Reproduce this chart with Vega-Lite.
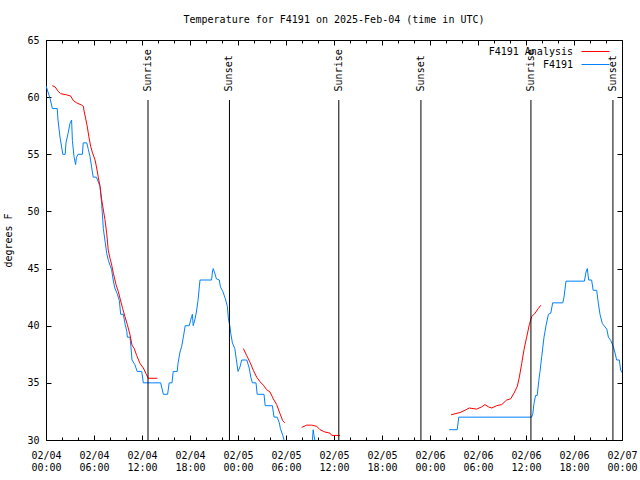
{
  "$schema": "https://vega.github.io/schema/vega-lite/v6.json",
  "width": 576,
  "height": 400,
  "autosize": {"type": "none"},
  "padding": {"left": 46, "top": 40, "right": 18, "bottom": 40},
  "background": "white",
  "title": {"text": "Temperature for F4191 on 2025-Feb-04 (time in UTC)", "font": "DejaVu Sans Mono", "fontSize": 10, "fontWeight": "normal", "color": "black", "anchor": "middle", "frame": "group", "offset": 10},
  "datasets": {
    "obs": [
      {"series": "F4191", "seg": "b1", "time": "2025-02-04T00:00:00Z", "temp": 61.0},
      {"series": "F4191", "seg": "b1", "time": "2025-02-04T00:30:00Z", "temp": 59.9},
      {"series": "F4191", "seg": "b1", "time": "2025-02-04T00:48:00Z", "temp": 59.0},
      {"series": "F4191", "seg": "b1", "time": "2025-02-04T01:24:00Z", "temp": 59.0},
      {"series": "F4191", "seg": "b1", "time": "2025-02-04T01:30:00Z", "temp": 58.0},
      {"series": "F4191", "seg": "b1", "time": "2025-02-04T01:45:00Z", "temp": 56.5},
      {"series": "F4191", "seg": "b1", "time": "2025-02-04T02:06:00Z", "temp": 55.0},
      {"series": "F4191", "seg": "b1", "time": "2025-02-04T02:24:00Z", "temp": 55.0},
      {"series": "F4191", "seg": "b1", "time": "2025-02-04T02:30:00Z", "temp": 56.0},
      {"series": "F4191", "seg": "b1", "time": "2025-02-04T02:45:00Z", "temp": 56.8},
      {"series": "F4191", "seg": "b1", "time": "2025-02-04T03:00:00Z", "temp": 57.7},
      {"series": "F4191", "seg": "b1", "time": "2025-02-04T03:12:00Z", "temp": 58.0},
      {"series": "F4191", "seg": "b1", "time": "2025-02-04T03:18:00Z", "temp": 56.2},
      {"series": "F4191", "seg": "b1", "time": "2025-02-04T03:30:00Z", "temp": 54.8},
      {"series": "F4191", "seg": "b1", "time": "2025-02-04T03:42:00Z", "temp": 54.1},
      {"series": "F4191", "seg": "b1", "time": "2025-02-04T03:48:00Z", "temp": 54.7},
      {"series": "F4191", "seg": "b1", "time": "2025-02-04T04:00:00Z", "temp": 55.0},
      {"series": "F4191", "seg": "b1", "time": "2025-02-04T04:33:00Z", "temp": 55.0},
      {"series": "F4191", "seg": "b1", "time": "2025-02-04T04:39:00Z", "temp": 56.0},
      {"series": "F4191", "seg": "b1", "time": "2025-02-04T05:06:00Z", "temp": 56.0},
      {"series": "F4191", "seg": "b1", "time": "2025-02-04T05:18:00Z", "temp": 55.4},
      {"series": "F4191", "seg": "b1", "time": "2025-02-04T05:30:00Z", "temp": 54.8},
      {"series": "F4191", "seg": "b1", "time": "2025-02-04T05:42:00Z", "temp": 53.9},
      {"series": "F4191", "seg": "b1", "time": "2025-02-04T05:54:00Z", "temp": 53.0},
      {"series": "F4191", "seg": "b1", "time": "2025-02-04T06:18:00Z", "temp": 53.0},
      {"series": "F4191", "seg": "b1", "time": "2025-02-04T06:45:00Z", "temp": 52.2},
      {"series": "F4191", "seg": "b1", "time": "2025-02-04T06:58:00Z", "temp": 50.6},
      {"series": "F4191", "seg": "b1", "time": "2025-02-04T07:10:00Z", "temp": 48.5},
      {"series": "F4191", "seg": "b1", "time": "2025-02-04T07:24:00Z", "temp": 47.3},
      {"series": "F4191", "seg": "b1", "time": "2025-02-04T07:36:00Z", "temp": 46.3},
      {"series": "F4191", "seg": "b1", "time": "2025-02-04T07:48:00Z", "temp": 45.7},
      {"series": "F4191", "seg": "b1", "time": "2025-02-04T08:00:00Z", "temp": 45.3},
      {"series": "F4191", "seg": "b1", "time": "2025-02-04T08:12:00Z", "temp": 44.9},
      {"series": "F4191", "seg": "b1", "time": "2025-02-04T08:24:00Z", "temp": 44.0},
      {"series": "F4191", "seg": "b1", "time": "2025-02-04T08:36:00Z", "temp": 43.3},
      {"series": "F4191", "seg": "b1", "time": "2025-02-04T08:54:00Z", "temp": 42.8},
      {"series": "F4191", "seg": "b1", "time": "2025-02-04T09:10:00Z", "temp": 42.2},
      {"series": "F4191", "seg": "b1", "time": "2025-02-04T09:20:00Z", "temp": 41.0},
      {"series": "F4191", "seg": "b1", "time": "2025-02-04T09:40:00Z", "temp": 41.0},
      {"series": "F4191", "seg": "b1", "time": "2025-02-04T09:54:00Z", "temp": 40.1},
      {"series": "F4191", "seg": "b1", "time": "2025-02-04T10:06:00Z", "temp": 39.5},
      {"series": "F4191", "seg": "b1", "time": "2025-02-04T10:10:00Z", "temp": 39.0},
      {"series": "F4191", "seg": "b1", "time": "2025-02-04T10:30:00Z", "temp": 39.0},
      {"series": "F4191", "seg": "b1", "time": "2025-02-04T10:36:00Z", "temp": 38.3},
      {"series": "F4191", "seg": "b1", "time": "2025-02-04T10:45:00Z", "temp": 37.0},
      {"series": "F4191", "seg": "b1", "time": "2025-02-04T11:06:00Z", "temp": 36.6},
      {"series": "F4191", "seg": "b1", "time": "2025-02-04T11:24:00Z", "temp": 36.0},
      {"series": "F4191", "seg": "b1", "time": "2025-02-04T11:58:00Z", "temp": 36.0},
      {"series": "F4191", "seg": "b1", "time": "2025-02-04T12:10:00Z", "temp": 35.0},
      {"series": "F4191", "seg": "b1", "time": "2025-02-04T14:20:00Z", "temp": 35.0},
      {"series": "F4191", "seg": "b1", "time": "2025-02-04T14:40:00Z", "temp": 34.0},
      {"series": "F4191", "seg": "b1", "time": "2025-02-04T15:12:00Z", "temp": 34.0},
      {"series": "F4191", "seg": "b1", "time": "2025-02-04T15:24:00Z", "temp": 35.0},
      {"series": "F4191", "seg": "b1", "time": "2025-02-04T15:45:00Z", "temp": 35.0},
      {"series": "F4191", "seg": "b1", "time": "2025-02-04T15:54:00Z", "temp": 36.0},
      {"series": "F4191", "seg": "b1", "time": "2025-02-04T16:24:00Z", "temp": 36.0},
      {"series": "F4191", "seg": "b1", "time": "2025-02-04T16:30:00Z", "temp": 36.7},
      {"series": "F4191", "seg": "b1", "time": "2025-02-04T16:45:00Z", "temp": 37.7},
      {"series": "F4191", "seg": "b1", "time": "2025-02-04T16:58:00Z", "temp": 38.2},
      {"series": "F4191", "seg": "b1", "time": "2025-02-04T17:10:00Z", "temp": 39.0},
      {"series": "F4191", "seg": "b1", "time": "2025-02-04T17:24:00Z", "temp": 40.0},
      {"series": "F4191", "seg": "b1", "time": "2025-02-04T17:54:00Z", "temp": 40.0},
      {"series": "F4191", "seg": "b1", "time": "2025-02-04T18:12:00Z", "temp": 40.8},
      {"series": "F4191", "seg": "b1", "time": "2025-02-04T18:18:00Z", "temp": 41.0},
      {"series": "F4191", "seg": "b1", "time": "2025-02-04T18:24:00Z", "temp": 40.0},
      {"series": "F4191", "seg": "b1", "time": "2025-02-04T18:36:00Z", "temp": 40.5},
      {"series": "F4191", "seg": "b1", "time": "2025-02-04T18:48:00Z", "temp": 41.2},
      {"series": "F4191", "seg": "b1", "time": "2025-02-04T19:00:00Z", "temp": 42.2},
      {"series": "F4191", "seg": "b1", "time": "2025-02-04T19:15:00Z", "temp": 44.0},
      {"series": "F4191", "seg": "b1", "time": "2025-02-04T20:42:00Z", "temp": 44.0},
      {"series": "F4191", "seg": "b1", "time": "2025-02-04T20:48:00Z", "temp": 44.7},
      {"series": "F4191", "seg": "b1", "time": "2025-02-04T20:54:00Z", "temp": 45.0},
      {"series": "F4191", "seg": "b1", "time": "2025-02-04T21:06:00Z", "temp": 44.6},
      {"series": "F4191", "seg": "b1", "time": "2025-02-04T21:18:00Z", "temp": 44.1},
      {"series": "F4191", "seg": "b1", "time": "2025-02-04T21:40:00Z", "temp": 44.0},
      {"series": "F4191", "seg": "b1", "time": "2025-02-04T21:48:00Z", "temp": 43.4},
      {"series": "F4191", "seg": "b1", "time": "2025-02-04T22:06:00Z", "temp": 43.0},
      {"series": "F4191", "seg": "b1", "time": "2025-02-04T22:24:00Z", "temp": 42.4},
      {"series": "F4191", "seg": "b1", "time": "2025-02-04T22:40:00Z", "temp": 41.7},
      {"series": "F4191", "seg": "b1", "time": "2025-02-04T22:48:00Z", "temp": 40.6},
      {"series": "F4191", "seg": "b1", "time": "2025-02-04T23:00:00Z", "temp": 39.9},
      {"series": "F4191", "seg": "b1", "time": "2025-02-04T23:06:00Z", "temp": 39.3},
      {"series": "F4191", "seg": "b1", "time": "2025-02-04T23:18:00Z", "temp": 38.5},
      {"series": "F4191", "seg": "b1", "time": "2025-02-04T23:36:00Z", "temp": 38.0},
      {"series": "F4191", "seg": "b1", "time": "2025-02-04T23:48:00Z", "temp": 37.0},
      {"series": "F4191", "seg": "b1", "time": "2025-02-05T00:00:00Z", "temp": 36.0},
      {"series": "F4191", "seg": "b1", "time": "2025-02-05T00:15:00Z", "temp": 36.4},
      {"series": "F4191", "seg": "b1", "time": "2025-02-05T00:28:00Z", "temp": 37.0},
      {"series": "F4191", "seg": "b1", "time": "2025-02-05T01:06:00Z", "temp": 37.0},
      {"series": "F4191", "seg": "b1", "time": "2025-02-05T01:24:00Z", "temp": 36.3},
      {"series": "F4191", "seg": "b1", "time": "2025-02-05T01:36:00Z", "temp": 35.5},
      {"series": "F4191", "seg": "b1", "time": "2025-02-05T01:48:00Z", "temp": 35.0},
      {"series": "F4191", "seg": "b1", "time": "2025-02-05T02:15:00Z", "temp": 35.0},
      {"series": "F4191", "seg": "b1", "time": "2025-02-05T02:24:00Z", "temp": 34.0},
      {"series": "F4191", "seg": "b1", "time": "2025-02-05T03:15:00Z", "temp": 34.0},
      {"series": "F4191", "seg": "b1", "time": "2025-02-05T03:24:00Z", "temp": 33.0},
      {"series": "F4191", "seg": "b1", "time": "2025-02-05T04:18:00Z", "temp": 33.0},
      {"series": "F4191", "seg": "b1", "time": "2025-02-05T04:30:00Z", "temp": 32.0},
      {"series": "F4191", "seg": "b1", "time": "2025-02-05T04:54:00Z", "temp": 32.0},
      {"series": "F4191", "seg": "b1", "time": "2025-02-05T05:10:00Z", "temp": 31.5},
      {"series": "F4191", "seg": "b1", "time": "2025-02-05T05:18:00Z", "temp": 31.0},
      {"series": "F4191", "seg": "b1", "time": "2025-02-05T05:36:00Z", "temp": 30.4},
      {"series": "F4191", "seg": "b1", "time": "2025-02-05T05:45:00Z", "temp": 30.0},
      {"series": "F4191", "seg": "b1", "time": "2025-02-05T06:12:00Z", "temp": 29.3},
      {"series": "F4191", "seg": "b1", "time": "2025-02-05T07:30:00Z", "temp": 29.0},
      {"series": "F4191", "seg": "b1", "time": "2025-02-05T09:00:00Z", "temp": 29.2},
      {"series": "F4191", "seg": "b1", "time": "2025-02-05T09:18:00Z", "temp": 30.0},
      {"series": "F4191", "seg": "b1", "time": "2025-02-05T09:24:00Z", "temp": 30.9},
      {"series": "F4191", "seg": "b1", "time": "2025-02-05T09:30:00Z", "temp": 30.4},
      {"series": "F4191", "seg": "b1", "time": "2025-02-05T09:36:00Z", "temp": 30.0},
      {"series": "F4191", "seg": "b1", "time": "2025-02-05T10:00:00Z", "temp": 29.4},
      {"series": "F4191", "seg": "b2", "time": "2025-02-06T02:24:00Z", "temp": 30.9},
      {"series": "F4191", "seg": "b2", "time": "2025-02-06T03:24:00Z", "temp": 30.9},
      {"series": "F4191", "seg": "b2", "time": "2025-02-06T03:36:00Z", "temp": 32.0},
      {"series": "F4191", "seg": "b2", "time": "2025-02-06T12:42:00Z", "temp": 32.0},
      {"series": "F4191", "seg": "b2", "time": "2025-02-06T12:51:00Z", "temp": 32.3},
      {"series": "F4191", "seg": "b2", "time": "2025-02-06T13:00:00Z", "temp": 33.2},
      {"series": "F4191", "seg": "b2", "time": "2025-02-06T13:12:00Z", "temp": 33.9},
      {"series": "F4191", "seg": "b2", "time": "2025-02-06T13:24:00Z", "temp": 33.9},
      {"series": "F4191", "seg": "b2", "time": "2025-02-06T13:36:00Z", "temp": 35.2},
      {"series": "F4191", "seg": "b2", "time": "2025-02-06T13:45:00Z", "temp": 36.0},
      {"series": "F4191", "seg": "b2", "time": "2025-02-06T13:58:00Z", "temp": 37.3},
      {"series": "F4191", "seg": "b2", "time": "2025-02-06T14:15:00Z", "temp": 39.0},
      {"series": "F4191", "seg": "b2", "time": "2025-02-06T14:30:00Z", "temp": 40.0},
      {"series": "F4191", "seg": "b2", "time": "2025-02-06T14:48:00Z", "temp": 41.0},
      {"series": "F4191", "seg": "b2", "time": "2025-02-06T15:06:00Z", "temp": 41.1},
      {"series": "F4191", "seg": "b2", "time": "2025-02-06T15:20:00Z", "temp": 42.0},
      {"series": "F4191", "seg": "b2", "time": "2025-02-06T16:36:00Z", "temp": 42.0},
      {"series": "F4191", "seg": "b2", "time": "2025-02-06T16:45:00Z", "temp": 42.5},
      {"series": "F4191", "seg": "b2", "time": "2025-02-06T17:00:00Z", "temp": 43.9},
      {"series": "F4191", "seg": "b2", "time": "2025-02-06T19:18:00Z", "temp": 43.9},
      {"series": "F4191", "seg": "b2", "time": "2025-02-06T19:30:00Z", "temp": 44.7},
      {"series": "F4191", "seg": "b2", "time": "2025-02-06T19:40:00Z", "temp": 45.0},
      {"series": "F4191", "seg": "b2", "time": "2025-02-06T19:50:00Z", "temp": 44.0},
      {"series": "F4191", "seg": "b2", "time": "2025-02-06T20:12:00Z", "temp": 44.0},
      {"series": "F4191", "seg": "b2", "time": "2025-02-06T20:24:00Z", "temp": 43.1},
      {"series": "F4191", "seg": "b2", "time": "2025-02-06T20:50:00Z", "temp": 43.1},
      {"series": "F4191", "seg": "b2", "time": "2025-02-06T21:02:00Z", "temp": 42.0},
      {"series": "F4191", "seg": "b2", "time": "2025-02-06T21:15:00Z", "temp": 41.0},
      {"series": "F4191", "seg": "b2", "time": "2025-02-06T21:32:00Z", "temp": 40.2},
      {"series": "F4191", "seg": "b2", "time": "2025-02-06T21:45:00Z", "temp": 40.0},
      {"series": "F4191", "seg": "b2", "time": "2025-02-06T22:06:00Z", "temp": 39.7},
      {"series": "F4191", "seg": "b2", "time": "2025-02-06T22:18:00Z", "temp": 39.0},
      {"series": "F4191", "seg": "b2", "time": "2025-02-06T22:36:00Z", "temp": 38.7},
      {"series": "F4191", "seg": "b2", "time": "2025-02-06T22:54:00Z", "temp": 38.2},
      {"series": "F4191", "seg": "b2", "time": "2025-02-06T23:06:00Z", "temp": 37.7},
      {"series": "F4191", "seg": "b2", "time": "2025-02-06T23:20:00Z", "temp": 37.0},
      {"series": "F4191", "seg": "b2", "time": "2025-02-06T23:40:00Z", "temp": 37.0},
      {"series": "F4191", "seg": "b2", "time": "2025-02-06T23:50:00Z", "temp": 36.1},
      {"series": "F4191", "seg": "b2", "time": "2025-02-07T00:00:00Z", "temp": 35.9},
      {"series": "F4191 Analysis", "seg": "r1", "time": "2025-02-04T00:47:00Z", "temp": 61.0},
      {"series": "F4191 Analysis", "seg": "r1", "time": "2025-02-04T01:08:00Z", "temp": 60.9},
      {"series": "F4191 Analysis", "seg": "r1", "time": "2025-02-04T01:32:00Z", "temp": 60.5},
      {"series": "F4191 Analysis", "seg": "r1", "time": "2025-02-04T01:50:00Z", "temp": 60.3},
      {"series": "F4191 Analysis", "seg": "r1", "time": "2025-02-04T02:35:00Z", "temp": 60.2},
      {"series": "F4191 Analysis", "seg": "r1", "time": "2025-02-04T03:05:00Z", "temp": 60.1},
      {"series": "F4191 Analysis", "seg": "r1", "time": "2025-02-04T03:25:00Z", "temp": 59.7},
      {"series": "F4191 Analysis", "seg": "r1", "time": "2025-02-04T03:50:00Z", "temp": 59.5},
      {"series": "F4191 Analysis", "seg": "r1", "time": "2025-02-04T04:28:00Z", "temp": 59.3},
      {"series": "F4191 Analysis", "seg": "r1", "time": "2025-02-04T04:40:00Z", "temp": 59.2},
      {"series": "F4191 Analysis", "seg": "r1", "time": "2025-02-04T04:47:00Z", "temp": 58.7},
      {"series": "F4191 Analysis", "seg": "r1", "time": "2025-02-04T04:58:00Z", "temp": 58.1},
      {"series": "F4191 Analysis", "seg": "r1", "time": "2025-02-04T05:10:00Z", "temp": 57.4},
      {"series": "F4191 Analysis", "seg": "r1", "time": "2025-02-04T05:22:00Z", "temp": 56.5},
      {"series": "F4191 Analysis", "seg": "r1", "time": "2025-02-04T05:35:00Z", "temp": 55.7},
      {"series": "F4191 Analysis", "seg": "r1", "time": "2025-02-04T05:47:00Z", "temp": 55.2},
      {"series": "F4191 Analysis", "seg": "r1", "time": "2025-02-04T06:08:00Z", "temp": 54.5},
      {"series": "F4191 Analysis", "seg": "r1", "time": "2025-02-04T06:20:00Z", "temp": 53.8},
      {"series": "F4191 Analysis", "seg": "r1", "time": "2025-02-04T06:32:00Z", "temp": 53.0},
      {"series": "F4191 Analysis", "seg": "r1", "time": "2025-02-04T06:45:00Z", "temp": 52.2},
      {"series": "F4191 Analysis", "seg": "r1", "time": "2025-02-04T06:58:00Z", "temp": 51.0},
      {"series": "F4191 Analysis", "seg": "r1", "time": "2025-02-04T07:22:00Z", "temp": 49.3},
      {"series": "F4191 Analysis", "seg": "r1", "time": "2025-02-04T07:35:00Z", "temp": 48.1},
      {"series": "F4191 Analysis", "seg": "r1", "time": "2025-02-04T07:47:00Z", "temp": 46.6},
      {"series": "F4191 Analysis", "seg": "r1", "time": "2025-02-04T08:00:00Z", "temp": 45.9},
      {"series": "F4191 Analysis", "seg": "r1", "time": "2025-02-04T08:13:00Z", "temp": 45.3},
      {"series": "F4191 Analysis", "seg": "r1", "time": "2025-02-04T08:25:00Z", "temp": 44.6},
      {"series": "F4191 Analysis", "seg": "r1", "time": "2025-02-04T08:45:00Z", "temp": 43.6},
      {"series": "F4191 Analysis", "seg": "r1", "time": "2025-02-04T09:02:00Z", "temp": 43.0},
      {"series": "F4191 Analysis", "seg": "r1", "time": "2025-02-04T09:15:00Z", "temp": 42.4},
      {"series": "F4191 Analysis", "seg": "r1", "time": "2025-02-04T09:35:00Z", "temp": 41.5},
      {"series": "F4191 Analysis", "seg": "r1", "time": "2025-02-04T09:52:00Z", "temp": 40.8},
      {"series": "F4191 Analysis", "seg": "r1", "time": "2025-02-04T10:10:00Z", "temp": 40.1},
      {"series": "F4191 Analysis", "seg": "r1", "time": "2025-02-04T10:30:00Z", "temp": 39.2},
      {"series": "F4191 Analysis", "seg": "r1", "time": "2025-02-04T10:45:00Z", "temp": 38.3},
      {"series": "F4191 Analysis", "seg": "r1", "time": "2025-02-04T11:02:00Z", "temp": 38.0},
      {"series": "F4191 Analysis", "seg": "r1", "time": "2025-02-04T11:20:00Z", "temp": 37.4},
      {"series": "F4191 Analysis", "seg": "r1", "time": "2025-02-04T11:45:00Z", "temp": 36.7},
      {"series": "F4191 Analysis", "seg": "r1", "time": "2025-02-04T12:10:00Z", "temp": 36.3},
      {"series": "F4191 Analysis", "seg": "r1", "time": "2025-02-04T12:30:00Z", "temp": 35.8},
      {"series": "F4191 Analysis", "seg": "r1", "time": "2025-02-04T12:47:00Z", "temp": 35.4},
      {"series": "F4191 Analysis", "seg": "r1", "time": "2025-02-04T13:55:00Z", "temp": 35.4},
      {"series": "F4191 Analysis", "seg": "r2", "time": "2025-02-05T00:40:00Z", "temp": 38.0},
      {"series": "F4191 Analysis", "seg": "r2", "time": "2025-02-05T01:05:00Z", "temp": 37.4},
      {"series": "F4191 Analysis", "seg": "r2", "time": "2025-02-05T01:30:00Z", "temp": 36.8},
      {"series": "F4191 Analysis", "seg": "r2", "time": "2025-02-05T01:55:00Z", "temp": 36.1},
      {"series": "F4191 Analysis", "seg": "r2", "time": "2025-02-05T02:20:00Z", "temp": 35.5},
      {"series": "F4191 Analysis", "seg": "r2", "time": "2025-02-05T02:45:00Z", "temp": 35.1},
      {"series": "F4191 Analysis", "seg": "r2", "time": "2025-02-05T03:10:00Z", "temp": 34.8},
      {"series": "F4191 Analysis", "seg": "r2", "time": "2025-02-05T03:35:00Z", "temp": 34.4},
      {"series": "F4191 Analysis", "seg": "r2", "time": "2025-02-05T04:00:00Z", "temp": 34.2},
      {"series": "F4191 Analysis", "seg": "r2", "time": "2025-02-05T04:25:00Z", "temp": 33.6},
      {"series": "F4191 Analysis", "seg": "r2", "time": "2025-02-05T04:50:00Z", "temp": 33.1},
      {"series": "F4191 Analysis", "seg": "r2", "time": "2025-02-05T05:15:00Z", "temp": 32.3},
      {"series": "F4191 Analysis", "seg": "r2", "time": "2025-02-05T05:35:00Z", "temp": 31.7},
      {"series": "F4191 Analysis", "seg": "r2", "time": "2025-02-05T05:52:00Z", "temp": 31.5},
      {"series": "F4191 Analysis", "seg": "r3", "time": "2025-02-05T07:58:00Z", "temp": 31.1},
      {"series": "F4191 Analysis", "seg": "r3", "time": "2025-02-05T08:35:00Z", "temp": 31.3},
      {"series": "F4191 Analysis", "seg": "r3", "time": "2025-02-05T09:12:00Z", "temp": 31.3},
      {"series": "F4191 Analysis", "seg": "r3", "time": "2025-02-05T09:50:00Z", "temp": 31.2},
      {"series": "F4191 Analysis", "seg": "r3", "time": "2025-02-05T10:15:00Z", "temp": 30.9},
      {"series": "F4191 Analysis", "seg": "r3", "time": "2025-02-05T10:52:00Z", "temp": 30.7},
      {"series": "F4191 Analysis", "seg": "r3", "time": "2025-02-05T11:30:00Z", "temp": 30.6},
      {"series": "F4191 Analysis", "seg": "r3", "time": "2025-02-05T11:43:00Z", "temp": 30.4},
      {"series": "F4191 Analysis", "seg": "r3", "time": "2025-02-05T12:45:00Z", "temp": 30.4},
      {"series": "F4191 Analysis", "seg": "r4", "time": "2025-02-06T02:38:00Z", "temp": 32.2},
      {"series": "F4191 Analysis", "seg": "r4", "time": "2025-02-06T03:08:00Z", "temp": 32.3},
      {"series": "F4191 Analysis", "seg": "r4", "time": "2025-02-06T03:45:00Z", "temp": 32.4},
      {"series": "F4191 Analysis", "seg": "r4", "time": "2025-02-06T04:22:00Z", "temp": 32.6},
      {"series": "F4191 Analysis", "seg": "r4", "time": "2025-02-06T04:55:00Z", "temp": 32.8},
      {"series": "F4191 Analysis", "seg": "r4", "time": "2025-02-06T05:50:00Z", "temp": 32.7},
      {"series": "F4191 Analysis", "seg": "r4", "time": "2025-02-06T06:28:00Z", "temp": 32.9},
      {"series": "F4191 Analysis", "seg": "r4", "time": "2025-02-06T06:52:00Z", "temp": 33.1},
      {"series": "F4191 Analysis", "seg": "r4", "time": "2025-02-06T07:18:00Z", "temp": 32.9},
      {"series": "F4191 Analysis", "seg": "r4", "time": "2025-02-06T07:43:00Z", "temp": 32.8},
      {"series": "F4191 Analysis", "seg": "r4", "time": "2025-02-06T08:20:00Z", "temp": 33.0},
      {"series": "F4191 Analysis", "seg": "r4", "time": "2025-02-06T08:58:00Z", "temp": 33.1},
      {"series": "F4191 Analysis", "seg": "r4", "time": "2025-02-06T09:35:00Z", "temp": 33.5},
      {"series": "F4191 Analysis", "seg": "r4", "time": "2025-02-06T10:05:00Z", "temp": 33.6},
      {"series": "F4191 Analysis", "seg": "r4", "time": "2025-02-06T10:30:00Z", "temp": 34.1},
      {"series": "F4191 Analysis", "seg": "r4", "time": "2025-02-06T10:55:00Z", "temp": 34.7},
      {"series": "F4191 Analysis", "seg": "r4", "time": "2025-02-06T11:10:00Z", "temp": 35.5},
      {"series": "F4191 Analysis", "seg": "r4", "time": "2025-02-06T11:28:00Z", "temp": 36.7},
      {"series": "F4191 Analysis", "seg": "r4", "time": "2025-02-06T11:45:00Z", "temp": 37.9},
      {"series": "F4191 Analysis", "seg": "r4", "time": "2025-02-06T12:05:00Z", "temp": 39.0},
      {"series": "F4191 Analysis", "seg": "r4", "time": "2025-02-06T12:25:00Z", "temp": 40.1},
      {"series": "F4191 Analysis", "seg": "r4", "time": "2025-02-06T12:43:00Z", "temp": 40.8},
      {"series": "F4191 Analysis", "seg": "r4", "time": "2025-02-06T13:08:00Z", "temp": 41.1},
      {"series": "F4191 Analysis", "seg": "r4", "time": "2025-02-06T13:32:00Z", "temp": 41.5},
      {"series": "F4191 Analysis", "seg": "r4", "time": "2025-02-06T13:52:00Z", "temp": 41.8}
    ],
    "events": [
      {"event": "Sunrise", "time": "2025-02-04T12:45:00Z"},
      {"event": "Sunset", "time": "2025-02-04T22:56:00Z"},
      {"event": "Sunrise", "time": "2025-02-05T12:36:00Z"},
      {"event": "Sunset", "time": "2025-02-05T22:52:00Z"},
      {"event": "Sunrise", "time": "2025-02-06T12:37:00Z"},
      {"event": "Sunset", "time": "2025-02-06T22:52:00Z"}
    ]
  },
  "layer": [
    {
      "data": {"name": "obs"},
      "mark": {"type": "line", "strokeWidth": 1, "clip": true},
      "encoding": {
        "x": {
          "field": "time", "type": "temporal",
          "scale": {"type": "utc", "domain": [1738627200000, 1738886400000], "nice": false},
          "axis": {
            "orient": "bottom", "title": null,
            "values": [1738627200000, 1738648800000, 1738670400000, 1738692000000, 1738713600000, 1738735200000, 1738756800000, 1738778400000, 1738800000000, 1738821600000, 1738843200000, 1738864800000, 1738886400000],
            "format": "%m/%d", "tickSize": -5,
            "labelOverlap": false, "labelFlush": false, "labelPadding": 15, "labelBaseline": "top"
          }
        },
        "y": {
          "field": "temp", "type": "quantitative",
          "scale": {"domain": [30, 65], "nice": false, "zero": false},
          "axis": {
            "orient": "left", "values": [30, 35, 40, 45, 50, 55, 60, 65],
            "tickSize": -5, "labelPadding": 12,
            "title": "degrees F", "titleX": -38, "titleY": 200, "titleAngle": 270, "titleAlign": "center", "titleBaseline": "middle"
          }
        },
        "color": {
          "field": "series", "type": "nominal",
          "scale": {"domain": ["F4191 Analysis", "F4191"], "range": ["#ff0000", "#0080ff"]},
          "legend": {
            "title": null, "orient": "none", "legendX": 542, "legendY": 4,
            "symbolType": "M-2,0H2", "symbolSize": 196, "symbolStrokeWidth": 1, "symbolOpacity": 1,
            "labelAlign": "right", "labelOffset": -30, "labelFont": "DejaVu Sans Mono", "labelFontSize": 10, "labelColor": "black",
            "padding": 0, "rowPadding": -2
          }
        },
        "detail": {"field": "seg", "type": "nominal"}
      }
    },
    {
      "data": {"name": "events"},
      "mark": {"type": "rule", "color": "black", "strokeWidth": 1},
      "encoding": {
        "x": {"field": "time", "type": "temporal", "scale": {"type": "utc", "domain": [1738627200000, 1738886400000], "nice": false},
          "axis": {"orient": "top", "title": null, "labels": false, "tickSize": -5,
            "values": [1738627200000, 1738648800000, 1738670400000, 1738692000000, 1738713600000, 1738735200000, 1738756800000, 1738778400000, 1738800000000, 1738821600000, 1738843200000, 1738864800000, 1738886400000]}},
        "y": {"datum": 30, "type": "quantitative", "scale": {"domain": [30, 65], "nice": false, "zero": false},
          "axis": {"orient": "right", "values": [30, 35, 40, 45, 50, 55, 60, 65], "tickSize": -5, "labels": false, "title": null}},
        "y2": {"datum": 59.75}
      }
    },
    {
      "data": {"name": "events"},
      "mark": {"type": "text", "angle": 270, "align": "left", "baseline": "middle", "font": "DejaVu Sans Mono", "fontSize": 10, "color": "black"},
      "encoding": {
        "x": {"field": "time", "type": "temporal", "scale": {"type": "utc", "domain": [1738627200000, 1738886400000], "nice": false},
          "axis": {"orient": "bottom", "title": null, "ticks": false, "format": "%H:%M",
            "values": [1738627200000, 1738648800000, 1738670400000, 1738692000000, 1738713600000, 1738735200000, 1738756800000, 1738778400000, 1738800000000, 1738821600000, 1738843200000, 1738864800000, 1738886400000],
            "labelOverlap": false, "labelFlush": false, "labelPadding": 22, "labelBaseline": "top"}},
        "y": {"datum": 60.5, "type": "quantitative", "scale": {"domain": [30, 65], "nice": false, "zero": false}, "axis": null},
        "text": {"field": "event"}
      }
    },
    {
      "data": {"name": "events"},
      "mark": {"type": "rule", "color": "black", "strokeWidth": 1, "opacity": 0},
      "encoding": {
        "x": {"field": "time", "type": "temporal", "scale": {"type": "utc", "domain": [1738627200000, 1738886400000], "nice": false},
          "axis": {"orient": "bottom", "title": null, "labels": false, "tickSize": -3,
            "values": [1738627200000, 1738634400000, 1738641600000, 1738648800000, 1738656000000, 1738663200000, 1738670400000, 1738677600000, 1738684800000, 1738692000000, 1738699200000, 1738706400000, 1738713600000, 1738720800000, 1738728000000, 1738735200000, 1738742400000, 1738749600000, 1738756800000, 1738764000000, 1738771200000, 1738778400000, 1738785600000, 1738792800000, 1738800000000, 1738807200000, 1738814400000, 1738821600000, 1738828800000, 1738836000000, 1738843200000, 1738850400000, 1738857600000, 1738864800000, 1738872000000, 1738879200000, 1738886400000]}},
        "y": {"datum": 30, "type": "quantitative", "scale": {"domain": [30, 65], "nice": false, "zero": false}, "axis": null},
        "y2": {"datum": 59.75}
      }
    },
    {
      "data": {"name": "events"},
      "mark": {"type": "rule", "color": "black", "strokeWidth": 1, "opacity": 0},
      "encoding": {
        "x": {"field": "time", "type": "temporal", "scale": {"type": "utc", "domain": [1738627200000, 1738886400000], "nice": false},
          "axis": {"orient": "top", "title": null, "labels": false, "tickSize": -3,
            "values": [1738627200000, 1738634400000, 1738641600000, 1738648800000, 1738656000000, 1738663200000, 1738670400000, 1738677600000, 1738684800000, 1738692000000, 1738699200000, 1738706400000, 1738713600000, 1738720800000, 1738728000000, 1738735200000, 1738742400000, 1738749600000, 1738756800000, 1738764000000, 1738771200000, 1738778400000, 1738785600000, 1738792800000, 1738800000000, 1738807200000, 1738814400000, 1738821600000, 1738828800000, 1738836000000, 1738843200000, 1738850400000, 1738857600000, 1738864800000, 1738872000000, 1738879200000, 1738886400000]}},
        "y": {"datum": 30, "type": "quantitative", "scale": {"domain": [30, 65], "nice": false, "zero": false}, "axis": null},
        "y2": {"datum": 59.75}
      }
    }
  ],
  "resolve": {"axis": {"x": "independent", "y": "independent"}},
  "config": {
    "view": {"stroke": "black", "strokeWidth": 1},
    "font": "DejaVu Sans Mono",
    "axis": {
      "domain": false, "grid": false, "tickColor": "black", "tickWidth": 1,
      "labelFont": "DejaVu Sans Mono", "labelFontSize": 10, "labelColor": "black",
      "titleFont": "DejaVu Sans Mono", "titleFontSize": 10, "titleFontWeight": "normal", "titleColor": "black"
    }
  }
}
